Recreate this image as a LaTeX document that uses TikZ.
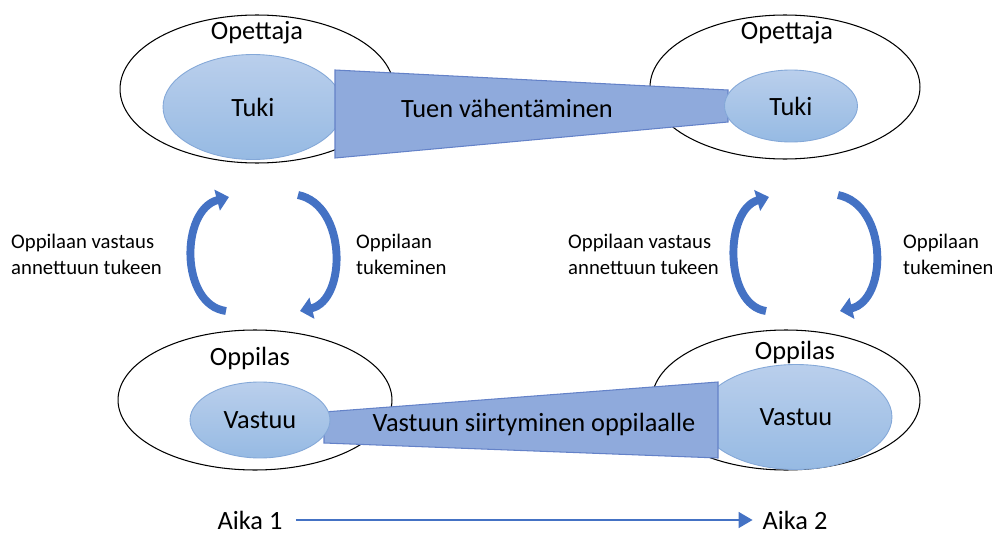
\documentclass[tikz,border=0pt]{standalone}
\usepackage{fontspec}
\setmainfont{Carlito}
\usetikzlibrary{shapes,arrows.meta}
\definecolor{tukitop}{RGB}{186,207,236}
\definecolor{tukibot}{RGB}{150,186,227}
\definecolor{tukiline}{RGB}{132,168,216}
\definecolor{wedgefill}{RGB}{143,170,220}
\definecolor{wedgeline}{RGB}{100,130,200}
\definecolor{loopblue}{RGB}{68,114,196}

\begin{document}
\begin{tikzpicture}[x=0.02cm,y=-0.02cm]
\tikzstyle{outer}=[draw,ellipse,line width=0.6pt,fill=white]
\tikzstyle{inner}=[draw=tukiline,ellipse,top color=tukitop,bottom color=tukibot,line width=0.5pt,font=\fontsize{15}{17}\selectfont]
\tikzstyle{title}=[font=\fontsize{15}{17}\selectfont]
\tikzstyle{wedge}=[draw=wedgeline,fill=wedgefill,line width=0.6pt]
\tikzstyle{loop}=[draw=loopblue,line width=4.5pt,-{Triangle[width=12pt,length=7pt]}]
\tikzstyle{side}=[align=left,anchor=west,font=\fontsize{11.8}{14.8}\selectfont]
\useasboundingbox (0,0) rectangle (992,534);

% opettaja, aika 1 ja 2
\node[outer,minimum width=5.48cm,minimum height=2.96cm] (ope1) at (257,89) {};
\node[outer,minimum width=5.4cm,minimum height=2.88cm] (ope2) at (785,87) {};
\node[title] (opt1) at (257,33) {Opettaja};
\node[title] (opt2) at (787,33) {Opettaja};
\node[inner,minimum width=3.6cm,minimum height=2.1cm] (tuki1) at (253,107) {Tuki};
\path[wedge] (335,70) -- (728,90) -- (728,122) -- (335,158) -- cycle;
\node[inner,minimum width=2.66cm,minimum height=1.44cm] (tuki2) at (791,106) {Tuki};
\node[title] (vah) at (507,108) {Tuen vähentäminen};

% oppilas, aika 1 ja 2
\node[outer,minimum width=5.48cm,minimum height=2.8cm] (opp1) at (255,400) {};
\node[outer,minimum width=5.36cm,minimum height=2.8cm] (opp2) at (786,400) {};
\node[title] (opl1) at (250,358) {Oppilas};
\node[title] (opl2) at (795,352) {Oppilas};
\node[inner,minimum width=3.84cm,minimum height=2.1cm] (vas2) at (796,417) {Vastuu};
\path[wedge] (324,412) -- (718,382) -- (718,458) -- (324,443) -- cycle;
\node[inner,minimum width=2.8cm,minimum height=1.52cm] (vas1) at (260,420) {Vastuu};
\node[title] (siirto) at (534,424) {Vastuun siirtyminen oppilaalle};

% kierto
\coordinate (t1a) at (226,311); \coordinate (h1a) at (229,197);
\coordinate (t1b) at (298,195); \coordinate (h1b) at (300,311);
\coordinate (t2a) at (766,311); \coordinate (h2a) at (769,197);
\coordinate (t2b) at (838,195); \coordinate (h2b) at (840,311);
\draw[loop] (t1a) .. controls (180,305) and (180,210) .. (h1a);
\draw[loop] (t1b) .. controls (347,205) and (347,300) .. (h1b);
\draw[loop] (t2a) .. controls (724,305) and (724,210) .. (h2a);
\draw[loop] (t2b) .. controls (888,205) and (888,300) .. (h2b);
\node[side] (vast1) at (5,254) {Oppilaan vastaus\\annettuun tukeen};
\node[side] (tuke1) at (350,254) {Oppilaan\\tukeminen};
\node[side] (vast2) at (562,254) {Oppilaan vastaus\\annettuun tukeen};
\node[side] (tuke2) at (897,254) {Oppilaan\\tukeminen};

% aika
\node[title,inner sep=1pt] (aika1) at (250,520) {Aika 1};
\node[title,inner sep=1pt] (aika2) at (795,520) {Aika 2};
\draw[draw=loopblue,line width=1.3pt,-{Triangle[width=9pt,length=8pt]},shorten <=6.5pt,shorten >=4.5pt] (aika1.east) -- (aika2.west);
\end{tikzpicture}
\end{document}
